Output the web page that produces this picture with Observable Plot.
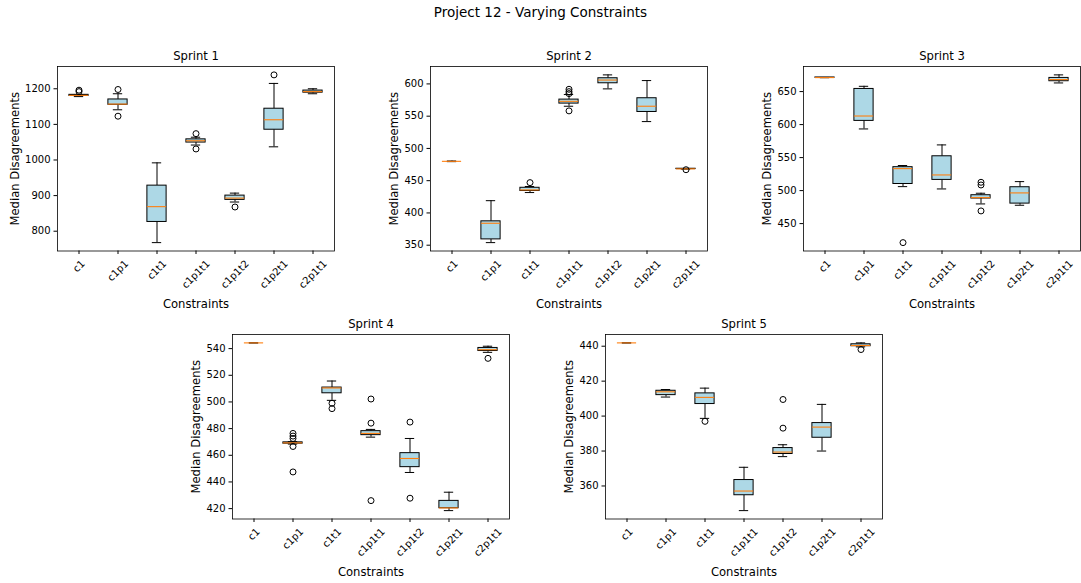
<!DOCTYPE html>
<html>
<head>
<meta charset="utf-8">
<script src="https://cdn.jsdelivr.net/npm/d3@7"></script>
<script src="https://cdn.jsdelivr.net/npm/@observablehq/plot@0.6"></script>
<style>
  body { margin: 0; background: #fff; font-family: "DejaVu Sans", sans-serif; }
  #root { position: relative; width: 1081px; height: 583px; overflow: hidden; background: #fff; }
  #suptitle { position: absolute; left: 0; top: 4px; width: 1081px; text-align: center; font-size: 13.5px; color: #000; }
</style>
</head>
<body>
<div id="root"><div id="suptitle">Project 12 - Varying Constraints</div></div>
<script>
// ---- data (box summaries: [whiskerLow, q1, median, q3, whiskerHigh]) ----
const constraints = ["c1", "c1p1", "c1t1", "c1p1t1", "c1p1t2", "c1p2t1", "c2p1t1"];
const sprintTitles = ["Sprint 1", "Sprint 2", "Sprint 3", "Sprint 4", "Sprint 5"];
const yLabel = "Median Disagreements";
const xLabel = "Constraints";

const sprint1Stats = [
  [1178, 1180, 1181.5, 1183, 1184],
  [1141, 1155, 1157, 1170, 1186],
  [768, 826, 869, 928, 992],
  [1042, 1049, 1054, 1058, 1064],
  [882, 888, 893, 900, 907],
  [1037, 1085, 1113, 1144, 1215],
  [1186, 1189, 1192, 1195, 1200]
];
const sprint1Outliers = [[1192, 1196], [1198, 1123], [], [1074, 1031], [868], [1239], []];
const sprint1Ticks = [800, 900, 1000, 1100, 1200];

const sprint2Stats = [
  [479.5, 480, 480, 480, 480.5],
  [354, 359, 384, 387, 419],
  [431.6, 434, 435.7, 439, 441],
  [565.4, 569.5, 573, 575.7, 583.5],
  [592.3, 601, 606, 608.8, 614],
  [541.6, 556.5, 565.4, 577.8, 605.2],
  [468, 468, 468.3, 468.5, 468.5]
];
const sprint2Outliers = [[], [], [447], [591.7, 588, 585, 558.2], [], [], [467]];
const sprint2Ticks = [350, 400, 450, 500, 550, 600];

const sprint3Stats = [
  [671, 671, 671.2, 671.4, 671.4],
  [593.4, 605.6, 613, 654, 658],
  [506, 510, 533.3, 535.5, 538],
  [502.5, 516.2, 523.7, 552, 569.2],
  [479.8, 488, 489.4, 493, 496],
  [477.8, 480.3, 496.5, 505.1, 513.6],
  [663.1, 665.7, 668.2, 670.7, 675.3]
];
const sprint3Outliers = [[], [], [421.2], [], [512.6, 508.5, 469.2], [], []];
const sprint3Ticks = [450, 500, 550, 600, 650];

const sprint4Stats = [
  [544.3, 544.3, 544.3, 544.3, 544.3],
  [468.4, 468.7, 469.3, 469.7, 470.3],
  [501.2, 506.5, 510.5, 510.8, 515.7],
  [473.6, 475.1, 476.4, 478.1, 479.4],
  [447.1, 451.1, 457.6, 461.6, 472.6],
  [418.5, 420.3, 420.5, 425.8, 432.3],
  [537.2, 538.2, 539.2, 540.5, 541.8]
];
const sprint4Outliers = [[], [476.4, 474.4, 472.6, 466.6, 447.5], [499, 495], [502.2, 484.1, 426], [484.9, 427.8], [], [532.7]];
const sprint4Ticks = [420, 440, 460, 480, 500, 520, 540];

const sprint5Stats = [
  [441.9, 441.9, 441.9, 441.9, 441.9],
  [410.9, 412, 413.9, 414.5, 415.2],
  [398.7, 406.9, 410.7, 413, 416],
  [345.9, 354.7, 357.1, 363.4, 370.7],
  [376.8, 378.3, 379.4, 381.7, 383.6],
  [380, 387.6, 393.7, 396, 406.7],
  [439.6, 440, 440.4, 441.1, 441.9]
];
const sprint5Outliers = [[], [], [397], [], [409.5, 393.1], [], [438.1]];
const sprint5Ticks = [360, 380, 400, 420, 440];

// ---- layout ----
const frameW = 277, frameH = 184.5;
const ML = 60, MR = 10, MT = 30, MB = 62;
const panels = [
  {title: sprintTitles[0], stats: sprint1Stats, outliers: sprint1Outliers, ticks: sprint1Ticks, left: 57.3, top: 66},
  {title: sprintTitles[1], stats: sprint2Stats, outliers: sprint2Outliers, ticks: sprint2Ticks, left: 430.3, top: 66},
  {title: sprintTitles[2], stats: sprint3Stats, outliers: sprint3Outliers, ticks: sprint3Ticks, left: 803.3, top: 66},
  {title: sprintTitles[3], stats: sprint4Stats, outliers: sprint4Outliers, ticks: sprint4Ticks, left: 232.3, top: 333.5},
  {title: sprintTitles[4], stats: sprint5Stats, outliers: sprint5Outliers, ticks: sprint5Ticks, left: 605, top: 333.5}
];

const ctx = document.createElement("canvas").getContext("2d");
ctx.font = "10px 'DejaVu Sans'";
const measure = s => ctx.measureText(s).width;

const root = document.getElementById("root");

for (const p of panels) {
  const rows = constraints.map((c, i) => ({cat: c, lo: p.stats[i][0], q1: p.stats[i][1], med: p.stats[i][2], q3: p.stats[i][3], hi: p.stats[i][4]}));
  const outs = constraints.flatMap((c, i) => p.outliers[i].map(v => ({cat: c, v})));
  const all = rows.flatMap(r => [r.lo, r.hi]).concat(outs.map(o => o.v));
  const mn = d3.min(all), mx = d3.max(all), pad = (mx - mn) * 0.05;
  const bw = frameW / constraints.length;
  const tickW = d3.max(p.ticks, t => measure(String(t)));
  const yLabOff = tickW + 3.5 + 3.5 + 3 + 6.7;

  const labelMarks = constraints.map(c => {
    const L = measure(c);
    return Plot.text([c], {x: d => d, text: d => d, frameAnchor: "bottom", rotate: -45, textAnchor: "middle", lineAnchor: "middle",
      dy: 7 + (L + 11.6) * 0.7071 / 2, fontSize: 10, fill: "black"});
  });

  const svg = Plot.plot({
    width: ML + frameW + MR,
    height: MT + frameH + MB,
    marginLeft: ML, marginRight: MR, marginTop: MT, marginBottom: MB,
    style: {fontFamily: "DejaVu Sans", fontSize: "10px", background: "transparent", overflow: "visible", color: "black"},
    x: {type: "band", domain: constraints, padding: 0},
    y: {domain: [mn - pad, mx + pad]},
    marks: [
      Plot.ruleX(rows, {x: "cat", y1: "q3", y2: "hi", stroke: "black", strokeWidth: 1}),
      Plot.ruleX(rows, {x: "cat", y1: "lo", y2: "q1", stroke: "black", strokeWidth: 1}),
      Plot.tickY(rows, {x: "cat", y: "hi", insetLeft: bw * 0.375, insetRight: bw * 0.375, stroke: "black", strokeWidth: 1}),
      Plot.tickY(rows, {x: "cat", y: "lo", insetLeft: bw * 0.375, insetRight: bw * 0.375, stroke: "black", strokeWidth: 1}),
      Plot.barY(rows, {x: "cat", y1: "q1", y2: "q3", fill: "#add8e6", stroke: "black", strokeWidth: 1, insetLeft: bw * 0.25, insetRight: bw * 0.25}),
      Plot.tickY(rows, {x: "cat", y: "med", insetLeft: bw * 0.25, insetRight: bw * 0.25, stroke: "#ff7f0e", strokeWidth: 1.1}),
      Plot.dot(outs, {x: "cat", y: "v", r: 3, stroke: "black", fill: "none", strokeWidth: 1}),
      Plot.frame({stroke: "black", strokeWidth: 0.8}),
      Plot.axisY({ticks: p.ticks, tickFormat: d => String(d), tickSize: 3.5, tickPadding: 3.5, label: null, fontSize: 10}),
      Plot.axisX({tickSize: 3.5, tickFormat: () => "", label: null}),
      Plot.text([p.title], {text: d => d, frameAnchor: "top", lineAnchor: "middle", dy: -10, fontSize: 11.6, fill: "black"}),
      Plot.text([yLabel], {text: d => d, frameAnchor: "left", rotate: -90, textAnchor: "middle", lineAnchor: "middle", dx: -yLabOff, fontSize: 11.6, fill: "black"}),
      Plot.text([xLabel], {text: d => d, frameAnchor: "bottom", lineAnchor: "middle", dy: 53, fontSize: 11.6, fill: "black"}),
      ...labelMarks
    ]
  });
  svg.style.position = "absolute";
  svg.style.left = (p.left - ML) + "px";
  svg.style.top = (p.top - MT) + "px";
  root.appendChild(svg);
}
</script>
</body>
</html>
